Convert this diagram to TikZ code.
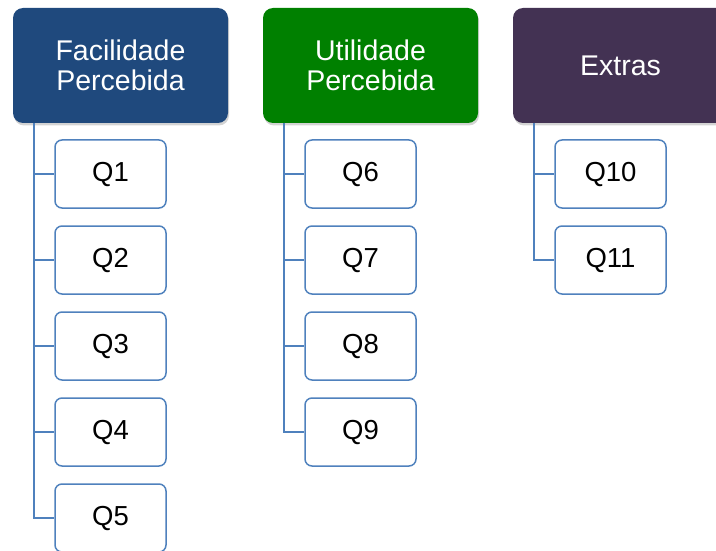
\documentclass[tikz,border=0pt]{standalone}
\usepackage{fontspec}
\setmainfont{Liberation Sans}
\usetikzlibrary{shadows}
\definecolor{hblue}{RGB}{31,73,125}
\definecolor{hgreen}{RGB}{0,128,0}
\definecolor{hpurple}{RGB}{67,50,83}
\definecolor{lblue}{RGB}{79,129,189}
\tikzset{
  x=1pt,y=-1pt,
  header/.style={rounded corners=10pt, minimum width=215pt, minimum height=115pt, text=white,
    font=\fontsize{28.5}{30}\selectfont, align=center, inner sep=0pt,
    drop shadow={opacity=0.35, shadow xshift=1pt, shadow yshift=-2.5pt}},
  qbox/.style={draw=lblue, line width=1.5pt, rounded corners=7pt, fill=white,
    minimum width=111pt, minimum height=68pt, font=\fontsize{27.5}{30}\selectfont, inner sep=0pt},
  conn/.style={draw=lblue, line width=1.8pt}
}
\begin{document}
\begin{tikzpicture}
\clip (0,0) rectangle (716,551);
\useasboundingbox (0,0) rectangle (716,551);
\node[header, fill=hblue] (h1) at (120.5,65.5) {Facilidade\\Percebida};
\node[header, fill=hgreen] (h2) at (370.5,65.5) {Utilidade\\Percebida};
\node[header, fill=hpurple] (h3) at (620.5,65.5) {Extras};
\coordinate (c1) at (34,123);
\coordinate (c2) at (284,123);
\coordinate (c3) at (534,123);
\foreach \n/\y in {1/174,2/260,3/346,4/432,5/518}{
  \node[qbox] (q\n) at (110.5,\y) {Q\n};
  \draw[conn] (c1) |- (q\n.west);
}
\foreach \n/\y in {6/174,7/260,8/346,9/432}{
  \node[qbox] (q\n) at (360.5,\y) {Q\n};
  \draw[conn] (c2) |- (q\n.west);
}
\foreach \n/\y in {10/174,11/260}{
  \node[qbox] (q\n) at (610.5,\y) {Q\n};
  \draw[conn] (c3) |- (q\n.west);
}
\end{tikzpicture}
\end{document}
